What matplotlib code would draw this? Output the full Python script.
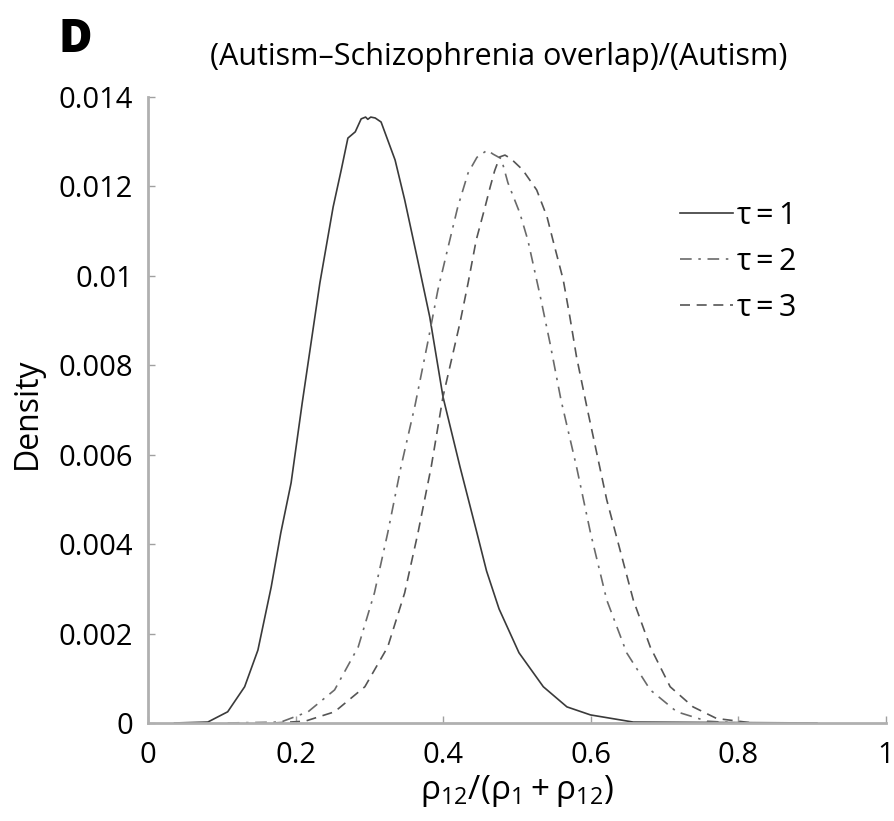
import matplotlib
matplotlib.use('Agg')
import matplotlib.pyplot as plt

plt.rcParams['font.family'] = ['Open Sans', 'DejaVu Sans']
plt.rcParams['mathtext.fontset'] = 'custom'
plt.rcParams['mathtext.rm'] = 'Open Sans'
plt.rcParams['mathtext.it'] = 'Open Sans:italic'

# tau = 1 (solid)
tau1_x = [0.036, 0.081, 0.108, 0.131, 0.149, 0.167, 0.180, 0.194, 0.209, 0.233,
          0.251, 0.262, 0.271, 0.281, 0.289, 0.295, 0.298, 0.302, 0.308, 0.316,
          0.335, 0.348, 0.365, 0.382, 0.400, 0.423, 0.446, 0.459, 0.476, 0.503,
          0.536, 0.568, 0.600, 0.658, 0.907]
tau1_y = [0.0, 0.00002, 0.00025, 0.00081, 0.00163, 0.00304, 0.00425, 0.00537, 0.00715, 0.00984,
          0.01154, 0.01237, 0.01308, 0.01322, 0.01351, 0.01355, 0.01350, 0.01355, 0.01353, 0.01344,
          0.01259, 0.01170, 0.01040, 0.00908, 0.00729, 0.00573, 0.00425, 0.00340, 0.00255, 0.00157,
          0.00081, 0.00036, 0.00018, 0.00002, 0.0]

# tau = 2 (dash-dot)
tau2_x = [0.108, 0.180, 0.217, 0.253, 0.285, 0.307, 0.325, 0.343, 0.362, 0.380,
          0.393, 0.407, 0.420, 0.434, 0.446, 0.460, 0.468, 0.479, 0.488, 0.504,
          0.515, 0.532, 0.545, 0.560, 0.581, 0.600, 0.622, 0.649, 0.681, 0.717,
          0.758, 0.800]
tau2_y = [0.0, 0.00002, 0.00025, 0.00074, 0.00170, 0.00291, 0.00425, 0.00573, 0.00710, 0.00857,
          0.00968, 0.01065, 0.01154, 0.01230, 0.01265, 0.01281, 0.01272, 0.01262, 0.01208, 0.01141,
          0.01080, 0.00953, 0.00850, 0.00722, 0.00573, 0.00425, 0.00275, 0.00157, 0.00074, 0.00025,
          0.00004, 0.0]

# tau = 3 (dashed)
tau3_x = [0.170, 0.213, 0.253, 0.294, 0.325, 0.348, 0.366, 0.384, 0.400, 0.423,
          0.434, 0.445, 0.457, 0.464, 0.470, 0.477, 0.484, 0.492, 0.508, 0.527,
          0.541, 0.549, 0.563, 0.572, 0.581, 0.595, 0.622, 0.640, 0.658, 0.681,
          0.708, 0.739, 0.771, 0.820]
tau3_y = [0.0, 0.00004, 0.00025, 0.00081, 0.00170, 0.00291, 0.00425, 0.00573, 0.00730, 0.00895,
          0.00984, 0.01080, 0.01154, 0.01199, 0.01235, 0.01266, 0.01270, 0.01262, 0.01237, 0.01192,
          0.01132, 0.01080, 0.00991, 0.00908, 0.00819, 0.00707, 0.00499, 0.00387, 0.00275, 0.00170,
          0.00081, 0.00036, 0.00010, 0.0]

xticks = [0, 0.2, 0.4, 0.6, 0.8, 1]
xtick_labels = ['0', '0.2', '0.4', '0.6', '0.8', '1']
yticks = [0, 0.002, 0.004, 0.006, 0.008, 0.01, 0.012, 0.014]
ytick_labels = ['0', '0.002', '0.004', '0.006', '0.008', '0.01', '0.012', '0.014']

fig = plt.figure(figsize=(8.95, 8.21), dpi=100)
ax = fig.add_axes([0.1654, 0.1194, 0.824, 0.7625])

ax.plot(tau1_x, tau1_y, color='#3a3a3a', lw=1.2, linestyle='-', label=r'$\mathrm{\tau = 1}$')
ax.plot(tau2_x, tau2_y, color='#6a6a6a', lw=1.2, linestyle=(0, (7, 4, 1.5, 4)), label=r'$\mathrm{\tau = 2}$')
ax.plot(tau3_x, tau3_y, color='#555555', lw=1.2, linestyle=(0, (6, 4)), label=r'$\mathrm{\tau = 3}$')

ax.set_xlim(0, 1)
ax.set_ylim(0, 0.014)
ax.set_xticks(xticks)
ax.set_xticklabels(xtick_labels)
ax.set_yticks(yticks)
ax.set_yticklabels(ytick_labels)
ax.tick_params(direction='in', length=5, width=1, color='#a0a0a0', labelsize=21)
ax.tick_params(axis='x', pad=13)
ax.tick_params(axis='y', pad=11)
for s in ['top', 'right']:
    ax.spines[s].set_visible(False)
for s in ['left', 'bottom']:
    ax.spines[s].set_color('#b0b0b0')
    ax.spines[s].set_linewidth(2)

ax.set_xlabel(r'$\mathrm{\rho_{12}/(\rho_1 + \rho_{12})}$', fontsize=24, labelpad=2)
ax.set_ylabel('Density', fontsize=23)
ax.yaxis.set_label_coords(-0.141, 0.495)
fig.text(499 / 895, 1 - 57 / 821, '(Autism\u2013Schizophrenia overlap)/(Autism)',
         fontsize=22, ha='center', va='center')
fig.text(75 / 895, 1 - 40 / 821, 'D', fontsize=33, fontweight='heavy', ha='center', va='center')

leg = ax.legend(loc='upper left', bbox_to_anchor=(0.721, 0.834), frameon=False, fontsize=22,
                handlelength=1.75, handletextpad=0.1, labelspacing=0.52,
                borderpad=0, borderaxespad=0)

fig.savefig('out.png', dpi=100)
